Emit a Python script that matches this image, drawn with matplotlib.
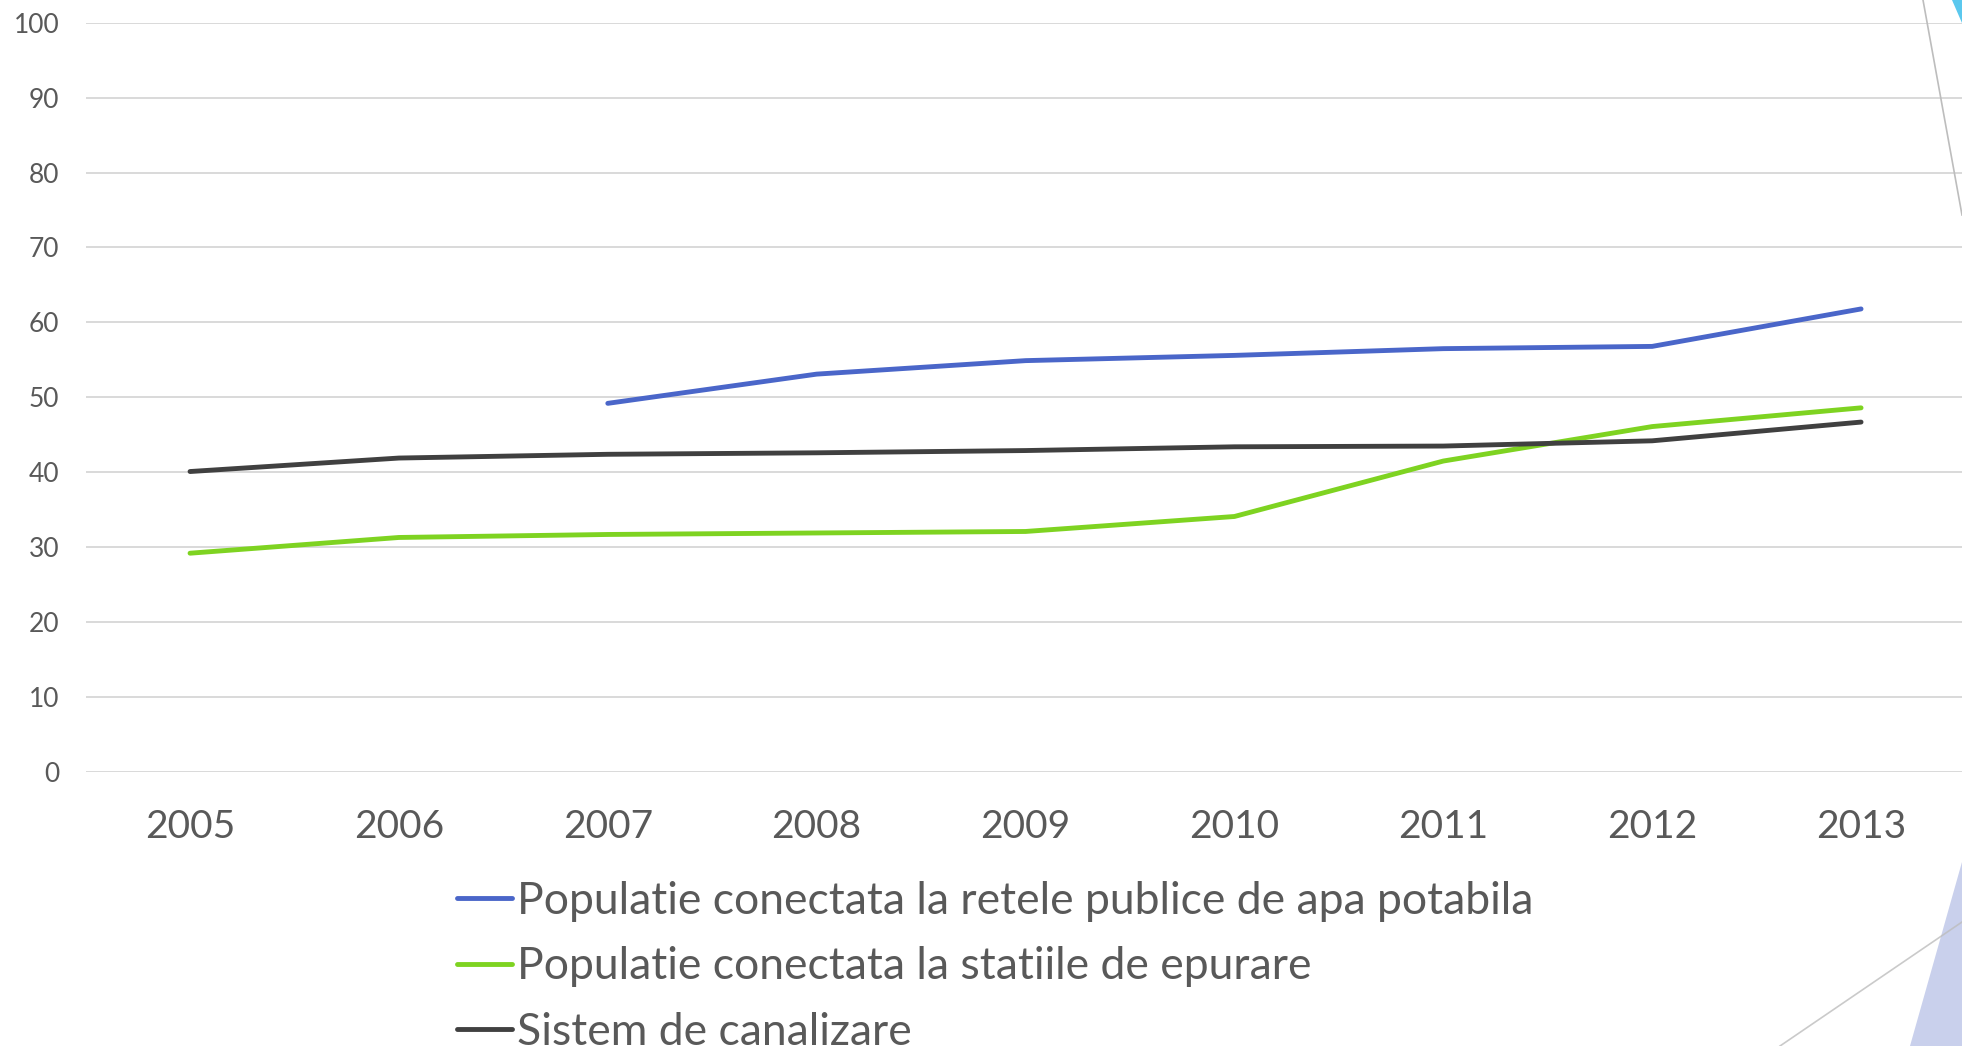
import numpy as np
import matplotlib
matplotlib.use("Agg")
import matplotlib.pyplot as plt
from matplotlib.patches import Polygon
from matplotlib.lines import Line2D

years = ["2005", "2006", "2007", "2008", "2009", "2010", "2011", "2012", "2013"]
apa_potabila = [np.nan, np.nan, 49.2, 53.1, 54.9, 55.6, 56.5, 56.8, 61.8]
statii_epurare = [29.2, 31.3, 31.7, 31.9, 32.1, 34.1, 41.5, 46.1, 48.6]
canalizare = [40.1, 41.9, 42.4, 42.6, 42.9, 43.4, 43.5, 44.2, 46.7]
labels = ["Populatie conectata la retele publice de apa potabila",
          "Populatie conectata la statiile de epurare",
          "Sistem de canalizare"]
colors = ["#4A66C9", "#7ED321", "#404040"]
yticks = list(range(0, 101, 10))

plt.rcParams['font.family'] = ['Lato', 'DejaVu Sans']
TXT = "#595959"

W, H = 1962, 1046
fig = plt.figure(figsize=(W / 100, H / 100), dpi=100)
fig.patch.set_facecolor("white")

left_px, right_px = 85.6, 1965.5
top_px, bot_px = 22.7, 772.0
ax = fig.add_axes([left_px / W, 1 - bot_px / H, (right_px - left_px) / W, (bot_px - top_px) / H])
ax.set_facecolor("none")

LW = 3.5
x = np.arange(len(years))
series = [apa_potabila, statii_epurare, canalizare]
for vals, c, lab in zip(series, colors, labels):
    ax.plot(x, vals, color=c, lw=LW, solid_capstyle="round", solid_joinstyle="round",
            label=lab, zorder=3)

ax.set_xlim(-0.5, len(years) - 0.5)
ax.set_ylim(0, 100)
ax.set_xticks(x)
ax.set_xticklabels(years)
ax.set_yticks(yticks)
ax.tick_params(axis="x", length=0, pad=27, labelsize=28, labelcolor=TXT)
ax.tick_params(axis="y", length=0, pad=19, labelsize=19, labelcolor=TXT)
for s in ax.spines.values():
    s.set_visible(False)
ax.grid(axis="y", color="#D9D9D9", lw=1.4, zorder=0)
ax.set_axisbelow(True)

leg_handles = [Line2D([0], [0], color=c, lw=LW, solid_capstyle="round") for c in colors]
leg = fig.legend(leg_handles, labels, loc="upper left",
                 bbox_to_anchor=(457 / W, 1 - 881 / H), frameon=False,
                 fontsize=32, handlelength=1.24, handletextpad=0.1,
                 labelspacing=0.55, borderpad=0, borderaxespad=0)
for t in leg.get_texts():
    t.set_color(TXT)

# decorative slide shapes on right edge
ov = fig.add_axes([0, 0, 1, 1], zorder=5)
ov.set_xlim(0, W)
ov.set_ylim(H, 0)
ov.axis("off")
ov.patch.set_alpha(0)
ov.add_patch(Polygon([[1952, 0], [1962, 0], [1962, 23]], closed=True, color="#5BC8EE", lw=0))
ov.plot([1923, 1962], [0, 215], color="#BDBDBD", lw=1.2)
ov.add_patch(Polygon([[1962, 862], [1910, 1046], [1962, 1046]], closed=True, color="#C9D0EC", lw=0))
ov.plot([1780, 1962], [1046, 922], color="#BDBDBD", lw=1.2, alpha=0.8)

fig.savefig("out.png", dpi=100)
